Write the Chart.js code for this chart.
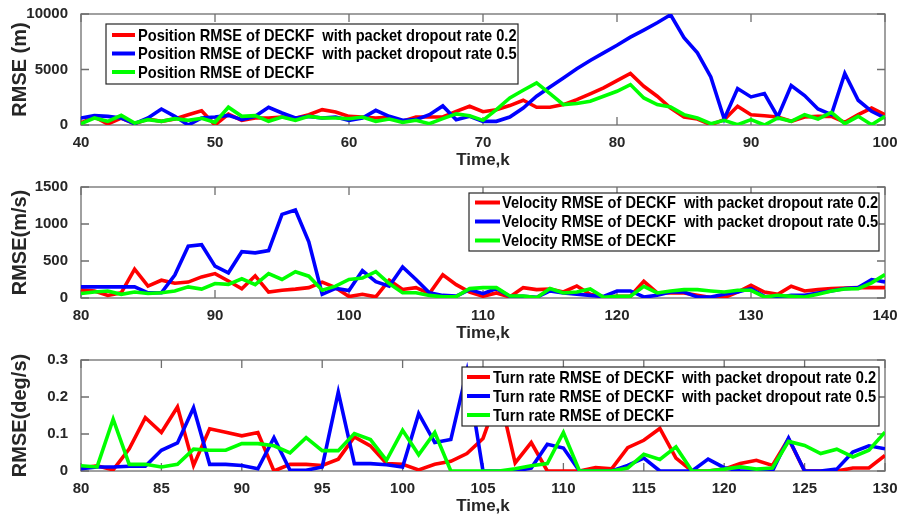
<!DOCTYPE html>
<html>
<head>
<meta charset="utf-8">
<script src="https://cdn.jsdelivr.net/npm/chart.js@4.4.1/dist/chart.umd.min.js"></script>
<style>
  body { margin: 0; background: #fff; }
  .panel { position: absolute; left: 0; width: 903px; height: 173px; }
</style>
</head>
<body>
<canvas id="posChart" class="panel" style="top:0" width="903" height="173"></canvas>
<canvas id="velChart" class="panel" style="top:173px" width="903" height="173"></canvas>
<canvas id="turnChart" class="panel" style="top:346px" width="903" height="173"></canvas>
<script>
// Position RMSE (m), k = 40..100
const posStart = 40;
const posRate02 = [180, 720, 90, 630, 120, 540, 330, 540, 930, 1290, 0, 990, 420, 630, 630, 720, 600, 930, 1380, 1170,
    780, 720, 630, 720, 330, 720, 720, 720, 1230, 1690, 1200, 1380, 1750, 2230, 1600, 1600, 1840, 2290, 2800, 3340,
    4000, 4640, 3490, 2590, 1530, 720, 540, 30, 480, 1690, 930, 840, 720, 330, 720, 780, 780, 240, 930, 1530, 930];
const posRate05 = [630, 840, 780, 630, 120, 630, 1440, 780, 0, 630, 720, 870, 480, 780, 1600, 1080, 630, 780, 630, 720,
    420, 630, 1320, 780, 420, 480, 930, 1720, 480, 780, 330, 330, 720, 1530, 2590, 3430, 4240, 5060, 5810, 6500,
    7190, 7920, 8550, 9210, 9930, 7860, 6500, 4330, 540, 3280, 2530, 2830, 720, 3550, 2650, 1440, 930, 4640, 2230, 1230, 630];
const posDeckf = [120, 630, 330, 870, 180, 480, 330, 570, 420, 600, 240, 1600, 780, 840, 330, 720, 420, 780, 630, 630,
    570, 720, 330, 540, 240, 420, 120, 570, 1000, 840, 420, 1380, 2440, 3130, 3790, 2830, 1840, 1930, 2140, 2590,
    3040, 3640, 2440, 1840, 1630, 930, 630, 120, 420, 30, 480, 0, 630, 330, 930, 540, 1140, 120, 780, 30, 780];

// Velocity RMSE (m/s), k = 80..140
const velStart = 80;
const velRate02 = [110, 95, 35, 70, 390, 160, 240, 200, 215, 285, 330, 230, 125, 300, 80, 105, 120, 140, 215, 140,
    20, 50, 15, 240, 115, 140, 60, 315, 180, 81, 23, 68, 14, 140, 113, 122, 81, 163, 50, 14,
    23, 23, 226, 68, 68, 68, 36, 5, 5, 81, 172, 81, 50, 158, 95, 113, 127, 136, 140, 140, 140];
const velRate05 = [150, 150, 150, 150, 150, 70, 70, 310, 700, 720, 430, 340, 625, 610, 640, 1130, 1190, 760, 50, 130,
    100, 370, 220, 160, 420, 250, 70, 35, 25, 113, 59, 127, 23, 23, 10, 95, 68, 50, 36, 20,
    95, 95, 14, 36, 81, 81, 14, 14, 50, 81, 127, 23, 5, 36, 36, 68, 95, 127, 140, 249, 217];
const velDeckf = [60, 80, 95, 50, 80, 60, 70, 95, 150, 120, 195, 185, 260, 180, 330, 250, 355, 295, 105, 160,
    250, 270, 355, 195, 70, 70, 35, 15, 20, 127, 140, 140, 27, 27, 5, 127, 68, 81, 122, 9,
    23, 23, 158, 68, 95, 113, 113, 95, 81, 104, 104, 14, 36, 23, 14, 50, 95, 122, 127, 204, 316];

// Turn rate RMSE (deg/s), k = 80..130
const turnStart = 80;
const turnRate02 = [0.008, 0.014, 0.003, 0.06, 0.144, 0.104, 0.173, 0.015, 0.114, 0.105, 0.095, 0.104, 0, 0.018, 0.018,
    0.015, 0.032, 0.092, 0.068, 0.02, 0.018, 0.003, 0.018, 0.026, 0.047, 0.088, 0.21, 0.022, 0.077, 0, 0, 0, 0.009,
    0.006, 0.063, 0.083, 0.115, 0.035, 0, 0, 0.005, 0.02, 0.029, 0.015, 0.087, 0, 0, 0, 0.008, 0.008, 0.042];
const turnRate05 = [0.006, 0.011, 0.011, 0.013, 0.013, 0.056, 0.076, 0.171, 0.018, 0.018, 0.015, 0.006, 0.09, 0.002, 0.002,
    0.011, 0.213, 0.02, 0.02, 0.017, 0.011, 0.155, 0.077, 0.085, 0.27, 0, 0, 0, 0.008, 0.072, 0.062, 0, 0,
    0, 0.015, 0.035, 0, 0, 0, 0.032, 0.009, 0, 0, 0, 0.089, 0, 0, 0.005, 0.051, 0.068, 0.06];
const turnDeckf = [0.014, 0.011, 0.14, 0.018, 0.018, 0.011, 0.018, 0.059, 0.056, 0.056, 0.074, 0.074, 0.068, 0.049, 0.09,
    0.055, 0.055, 0.101, 0.085, 0.029, 0.11, 0.044, 0.104, 0, 0, 0, 0, 0.006, 0.014, 0.02, 0.104, 0, 0,
    0, 0.008, 0.045, 0.031, 0.065, 0, 0, 0.005, 0.011, 0.005, 0.008, 0.08, 0.069, 0.047, 0.059, 0.038, 0.056, 0.105];

const RED = '#ff0000', BLUE = '#0000ff', GREEN = '#00ff00';
const TEXT = '#262626';

Chart.defaults.font.family = "'Liberation Sans', Arial, sans-serif";
Chart.defaults.font.weight = 'bold';

// helper: pair values with their k index
const toPoints = (start, values) => values.map((v, i) => ({ x: start + i, y: v }));
// plain tick text, no thousands separators
const plainTick = v => String(Number(v.toFixed(3)));

// MATLAB-style box with inward ticks
const axisBox = {
    id: 'axisBox',
    beforeDatasetsDraw(chart) {
        const { ctx, chartArea: a, scales } = chart;
        const len = 8;
        ctx.save();
        ctx.strokeStyle = '#6e6e6e';
        ctx.lineWidth = 1.3;
        ctx.strokeRect(a.left, a.top, a.right - a.left, a.bottom - a.top);
        ctx.beginPath();
        scales.x.ticks.forEach(t => {
            const px = scales.x.getPixelForValue(t.value);
            ctx.moveTo(px, a.bottom); ctx.lineTo(px, a.bottom - len);
            ctx.moveTo(px, a.top); ctx.lineTo(px, a.top + len);
        });
        scales.y.ticks.forEach(t => {
            const py = scales.y.getPixelForValue(t.value);
            ctx.moveTo(a.left, py); ctx.lineTo(a.left + len, py);
            ctx.moveTo(a.right, py); ctx.lineTo(a.right - len, py);
        });
        ctx.stroke();
        ctx.restore();
    }
};

// legend box drawn inside the plot area (text squeezed like the narrow MATLAB font)
const boxLegend = {
    id: 'boxLegend',
    afterDraw(chart, args, opts) {
        const { ctx } = chart;
        ctx.save();
        ctx.fillStyle = '#fff';
        ctx.fillRect(opts.x, opts.y, opts.w, opts.h);
        ctx.strokeStyle = '#262626';
        ctx.lineWidth = 1.2;
        ctx.strokeRect(opts.x, opts.y, opts.w, opts.h);
        ctx.font = "bold 17px 'Liberation Sans', sans-serif";
        ctx.textBaseline = 'middle';
        chart.data.datasets.forEach((ds, i) => {
            const rowY = opts.y + opts.rowTop + i * opts.rowGap;
            ctx.strokeStyle = ds.borderColor;
            ctx.lineWidth = 4;
            ctx.beginPath();
            ctx.moveTo(opts.x + opts.sample[0], rowY);
            ctx.lineTo(opts.x + opts.sample[1], rowY);
            ctx.stroke();
            ctx.fillStyle = '#000';
            const w = ctx.measureText(ds.label).width * 0.86;
            ctx.fillText(ds.label, opts.x + opts.textX, rowY + 1, w);
        });
        ctx.restore();
    }
};

function makePanel(id, cfg) {
    return new Chart(document.getElementById(id), {
        type: 'line',
        data: {
            datasets: cfg.series.map((s, i) => ({
                label: s.label,
                data: toPoints(cfg.start, s.values),
                borderColor: s.color,
                borderWidth: 3.6,
                pointRadius: 0,
                tension: 0,
                order: 3 - i // green drawn on top
            }))
        },
        options: {
            responsive: false,
            animation: false,
            layout: { padding: { top: 14, right: 18, left: 0, bottom: 0 } },
            plugins: {
                legend: { display: false },
                tooltip: { enabled: false },
                boxLegend: cfg.legend
            },
            scales: {
                x: {
                    type: 'linear',
                    min: cfg.xMin, max: cfg.xMax,
                    grid: { display: false },
                    border: { display: false },
                    ticks: { stepSize: cfg.xStep, color: TEXT, font: { size: 15 }, padding: 1, callback: plainTick },
                    title: { display: true, text: 'Time,k', color: TEXT, font: { size: 17 }, padding: { top: 0, bottom: 2 } },
                    afterFit: s => { s.height = 48; }
                },
                y: {
                    min: cfg.yMin, max: cfg.yMax,
                    grid: { display: false },
                    border: { display: false },
                    ticks: { stepSize: cfg.yStep, color: TEXT, font: { size: 15 }, padding: 5, callback: plainTick },
                    title: { display: true, text: cfg.yTitle, color: TEXT, font: { size: 20 }, padding: { top: 8, bottom: 0 } },
                    afterFit: s => { s.width = 81; }
                }
            }
        },
        plugins: [axisBox, boxLegend]
    });
}

makePanel('posChart', {
    start: posStart, xMin: 40, xMax: 100, xStep: 10, yMin: 0, yMax: 10000, yStep: 5000,
    yTitle: 'RMSE (m)',
    series: [
        { label: 'Position RMSE of DECKF  with packet dropout rate 0.2', values: posRate02, color: RED },
        { label: 'Position RMSE of DECKF  with packet dropout rate 0.5', values: posRate05, color: BLUE },
        { label: 'Position RMSE of DECKF', values: posDeckf, color: GREEN }
    ],
    legend: { x: 106, y: 24, w: 412, h: 60, rowTop: 11, rowGap: 18.5, sample: [6, 29], textX: 32 }
});

makePanel('velChart', {
    start: velStart, xMin: 80, xMax: 140, xStep: 10, yMin: 0, yMax: 1500, yStep: 500,
    yTitle: 'RMSE(m/s)',
    series: [
        { label: 'Velocity RMSE of DECKF  with packet dropout rate 0.2', values: velRate02, color: RED },
        { label: 'Velocity RMSE of DECKF  with packet dropout rate 0.5', values: velRate05, color: BLUE },
        { label: 'Velocity RMSE of DECKF', values: velDeckf, color: GREEN }
    ],
    legend: { x: 469, y: 20, w: 410, h: 58, rowTop: 9.5, rowGap: 19, sample: [6, 31], textX: 33 }
});

makePanel('turnChart', {
    start: turnStart, xMin: 80, xMax: 130, xStep: 5, yMin: 0, yMax: 0.3, yStep: 0.1,
    yTitle: 'RMSE(deg/s)',
    series: [
        { label: 'Turn rate RMSE of DECKF  with packet dropout rate 0.2', values: turnRate02, color: RED },
        { label: 'Turn rate RMSE of DECKF  with packet dropout rate 0.5', values: turnRate05, color: BLUE },
        { label: 'Turn rate RMSE of DECKF', values: turnDeckf, color: GREEN }
    ],
    legend: { x: 462, y: 21, w: 417, h: 59, rowTop: 10, rowGap: 19, sample: [5, 28], textX: 31 }
});
</script>
</body>
</html>
